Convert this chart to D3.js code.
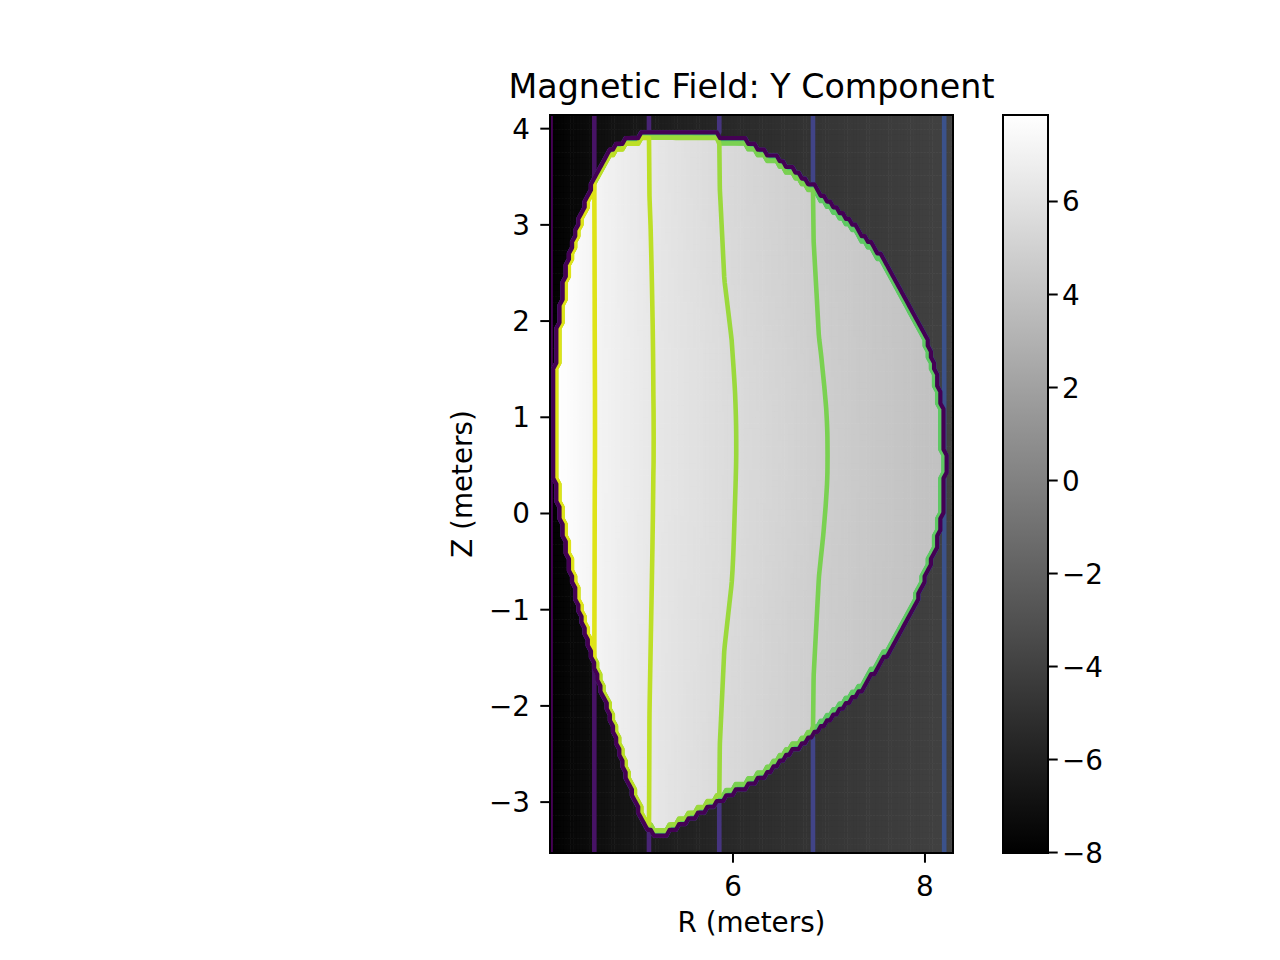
<!DOCTYPE html>
<html><head><meta charset="utf-8">
<script src="https://cdn.jsdelivr.net/npm/d3@7"></script>
<style>body{margin:0;background:#fff}text{font-family:"DejaVu Sans",sans-serif;fill:#000}</style>
</head><body>
<svg id="chart" width="1280" height="960"></svg>
<script>
// ---------------- data ----------------
const fieldF0 = 32.8;                       // R*|B| of the vacuum field (T*m)
const boundaryR = [5.08, 5.40, 5.70, 5.86, 6.125, 6.47, 6.81, 7.16, 7.51, 7.79, 8.00, 8.10, 8.17, 8.20, 8.18, 8.10, 7.93, 7.69, 7.34, 6.81, 6.30, 5.84, 5.50, 5.22, 5.08, 4.94, 4.80, 4.67, 4.56, 4.42, 4.30, 4.21, 4.15, 4.14, 4.15, 4.19, 4.26, 4.35, 4.46, 4.56, 4.73, 4.98];
const boundaryZ = [3.92, 3.96, 3.95, 3.90, 3.85, 3.66, 3.40, 3.07, 2.69, 2.24, 1.82, 1.47, 1.06, 0.54, 0.07, -0.35, -0.83, -1.32, -1.80, -2.29, -2.71, -2.98, -3.19, -3.35, -3.23, -2.85, -2.36, -1.91, -1.56, -1.04, -0.52, 0.00, 0.40, 0.90, 1.40, 1.93, 2.45, 2.86, 3.18, 3.45, 3.77, 3.89];
const axisRZ = [6.35, 0.65];                // magnetic axis
const boostRho = [0, 0.15, 0.35, 0.54, 0.83, 1.0];       // normalized minor radius
const boostVal = [0.034, 0.030, 0.022, 0.009, 0.001, 0]; // relative increase of R*B inside
const contourLevels = [-8.0, -7.2, -6.4, -5.6, -4.8, -4.0, -3.2, -2.4, -1.6, -0.8, 0, 0.8, 1.6, 2.4, 3.2, 4.0, 4.8, 5.6, 6.4, 7.2, 8.0];
const levelRange = [-8, 8];
const rangeR = [4.094, 8.292];
const rangeZ = [-3.529, 4.142];
const gridN = [129, 129];
const colorRange = [-8.01, 7.86];
const xTicks = [6, 8];
const yTicks = [-3, -2, -1, 0, 1, 2, 3, 4];
const cbTicks = [-8, -6, -4, -2, 0, 2, 4, 6];
const titleText = "Magnetic Field: Y Component";
const xLabel = "R (meters)";
const yLabel = "Z (meters)";

// ---------------- layout ----------------
const ax = {left: 550, right: 953, top: 115, bottom: 853};
const cb = {left: 1003, right: 1048, top: 115, bottom: 853};
const fs = 27.8, fsTitle = 33.3, tickLen = 9.7, lw = 2, clw = 4.6, blw = 4.2;

const svg = d3.select("#chart");
const xS = d3.scaleLinear().domain(rangeR).range([ax.left, ax.right]);
const yS = d3.scaleLinear().domain(rangeZ).range([ax.bottom, ax.top]);
const gray = d3.scaleLinear().domain(colorRange).range(["#000000", "#ffffff"]).clamp(true);
const lvlColor = d3.scaleSequential(d3.interpolateViridis).domain(levelRange);
const fmt = v => (v < 0 ? "\u2212" : "") + Math.abs(v);

// ---------------- field on grid ----------------
const [nr, nz] = gridN;
const dr = (rangeR[1] - rangeR[0]) / (nr - 1), dz = (rangeZ[1] - rangeZ[0]) / (nz - 1);
const pad = 2, NX = nr + 2 * pad, NY = nz + 2 * pad;
const nodeR = i => rangeR[0] + (i - pad) * dr;
const nodeZ = j => rangeZ[1] - (j - pad) * dz;
const poly = boundaryR.map((r, k) => [r, boundaryZ[k]]);
const boost = d3.scaleLinear().domain(boostRho).range(boostVal).clamp(true);

function rhoAt(r, z) {
  const dx = r - axisRZ[0], dy = z - axisRZ[1];
  if (Math.hypot(dx, dy) < 1e-9) return 0;
  let best = Infinity;
  for (let k = 0; k < poly.length; k++) {
    const [x1, y1] = poly[k], [x2, y2] = poly[(k + 1) % poly.length];
    const ex = x2 - x1, ey = y2 - y1;
    const den = dx * ey - dy * ex;
    if (Math.abs(den) < 1e-12) continue;
    const wx = x1 - axisRZ[0], wy = y1 - axisRZ[1];
    const s = (wx * ey - wy * ex) / den;
    const t = (wx * dy - wy * dx) / den;
    if (t >= 0 && t <= 1 && s > 0 && s < best) best = s;
  }
  return best === Infinity ? 1 : 1 / best;
}

const values = new Float64Array(NX * NY);
const mask = new Float64Array(NX * NY);
for (let j = 0; j < NY; j++) for (let i = 0; i < NX; i++) {
  const r = nodeR(i), z = nodeZ(j);
  const inside = d3.polygonContains(poly, [r, z]);
  mask[j * NX + i] = inside ? 1 : 0;
  values[j * NX + i] = inside ? fieldF0 * (1 + boost(rhoAt(r, z))) / r : -fieldF0 / r;
}

// ---------------- plot ----------------
const defs = svg.append("defs");
defs.append("clipPath").attr("id", "axclip").append("rect")
  .attr("x", ax.left).attr("y", ax.top).attr("width", ax.right - ax.left).attr("height", ax.bottom - ax.top);

const plot = svg.append("g").attr("clip-path", "url(#axclip)");

// heatmap cells
const cells = [];
for (let j = 0; j < NY; j++) for (let i = 0; i < NX; i++) cells.push([i, j]);
const cw = xS(rangeR[0] + dr) - xS(rangeR[0]), ch = yS(rangeZ[0]) - yS(rangeZ[0] + dz);
plot.append("g").selectAll("rect").data(cells).join("rect")
  .attr("x", d => xS(nodeR(d[0]) - dr / 2) - 0.3)
  .attr("y", d => yS(nodeZ(d[1]) + dz / 2) - 0.3)
  .attr("width", cw + 0.6)
  .attr("height", ch + 0.6)
  .attr("fill", d => gray(values[d[1] * NX + d[0]]));

// contour lines
const proj = d3.geoTransform({
  point: function (gx, gy) {
    this.stream.point(xS(rangeR[0] + (gx - 0.5 - pad) * dr), yS(rangeZ[1] - (gy - 0.5 - pad) * dz));
  }
});
const path = d3.geoPath(proj);
const conts = d3.contours().size([NX, NY]).thresholds(contourLevels)(Array.from(values));
plot.append("g").selectAll("path").data(conts).join("path")
  .attr("d", path).attr("fill", "none")
  .attr("stroke", d => lvlColor(d.value))
  .attr("stroke-width", clw).attr("stroke-linejoin", "round").attr("stroke-linecap", "round");

// boundary outline
const mconts = d3.contours().size([NX, NY]).thresholds([0.02])(Array.from(mask));
plot.append("g").selectAll("path").data(mconts).join("path")
  .attr("d", path).attr("fill", "none")
  .attr("stroke", lvlColor(levelRange[0]))
  .attr("stroke-width", blw).attr("stroke-linejoin", "round");

// frame
svg.append("rect").attr("x", ax.left).attr("y", ax.top)
  .attr("width", ax.right - ax.left).attr("height", ax.bottom - ax.top)
  .attr("fill", "none").attr("stroke", "#000").attr("stroke-width", lw);

// x ticks
const xt = svg.append("g");
xTicks.forEach(v => {
  xt.append("line").attr("x1", xS(v)).attr("x2", xS(v)).attr("y1", ax.bottom).attr("y2", ax.bottom + tickLen)
    .attr("stroke", "#000").attr("stroke-width", lw);
  xt.append("text").attr("x", xS(v)).attr("y", ax.bottom + 43).attr("text-anchor", "middle")
    .attr("font-size", fs).text(fmt(v));
});
// y ticks
yTicks.forEach(v => {
  xt.append("line").attr("x1", ax.left - tickLen).attr("x2", ax.left).attr("y1", yS(v)).attr("y2", yS(v))
    .attr("stroke", "#000").attr("stroke-width", lw);
  xt.append("text").attr("x", ax.left - 20).attr("y", yS(v) + 10).attr("text-anchor", "end")
    .attr("font-size", fs).text(fmt(v));
});

// labels
svg.append("text").attr("x", (ax.left + ax.right) / 2).attr("y", 932).attr("text-anchor", "middle")
  .attr("font-size", fs).text(xLabel);
svg.append("text").attr("transform", `translate(472,${(ax.top + ax.bottom) / 2}) rotate(-90)`)
  .attr("text-anchor", "middle").attr("font-size", fs).text(yLabel);
svg.append("text").attr("x", (ax.left + ax.right) / 2).attr("y", 98).attr("text-anchor", "middle")
  .attr("font-size", fsTitle).text(titleText);

// colorbar
const cS = d3.scaleLinear().domain(colorRange).range([cb.bottom, cb.top]);
const grad = defs.append("linearGradient").attr("id", "cbgrad")
  .attr("x1", 0).attr("y1", 1).attr("x2", 0).attr("y2", 0);
d3.range(0, 1.0001, 0.1).forEach(t => {
  const v = colorRange[0] + t * (colorRange[1] - colorRange[0]);
  grad.append("stop").attr("offset", t).attr("stop-color", gray(v));
});
svg.append("rect").attr("x", cb.left).attr("y", cb.top).attr("width", cb.right - cb.left)
  .attr("height", cb.bottom - cb.top).attr("fill", "url(#cbgrad)")
  .attr("stroke", "#000").attr("stroke-width", lw);
cbTicks.forEach(v => {
  svg.append("line").attr("x1", cb.right).attr("x2", cb.right + tickLen).attr("y1", cS(v)).attr("y2", cS(v))
    .attr("stroke", "#000").attr("stroke-width", lw);
  svg.append("text").attr("x", cb.right + 14).attr("y", cS(v) + 10).attr("text-anchor", "start")
    .attr("font-size", fs).text(fmt(v));
});
</script>
</body></html>
